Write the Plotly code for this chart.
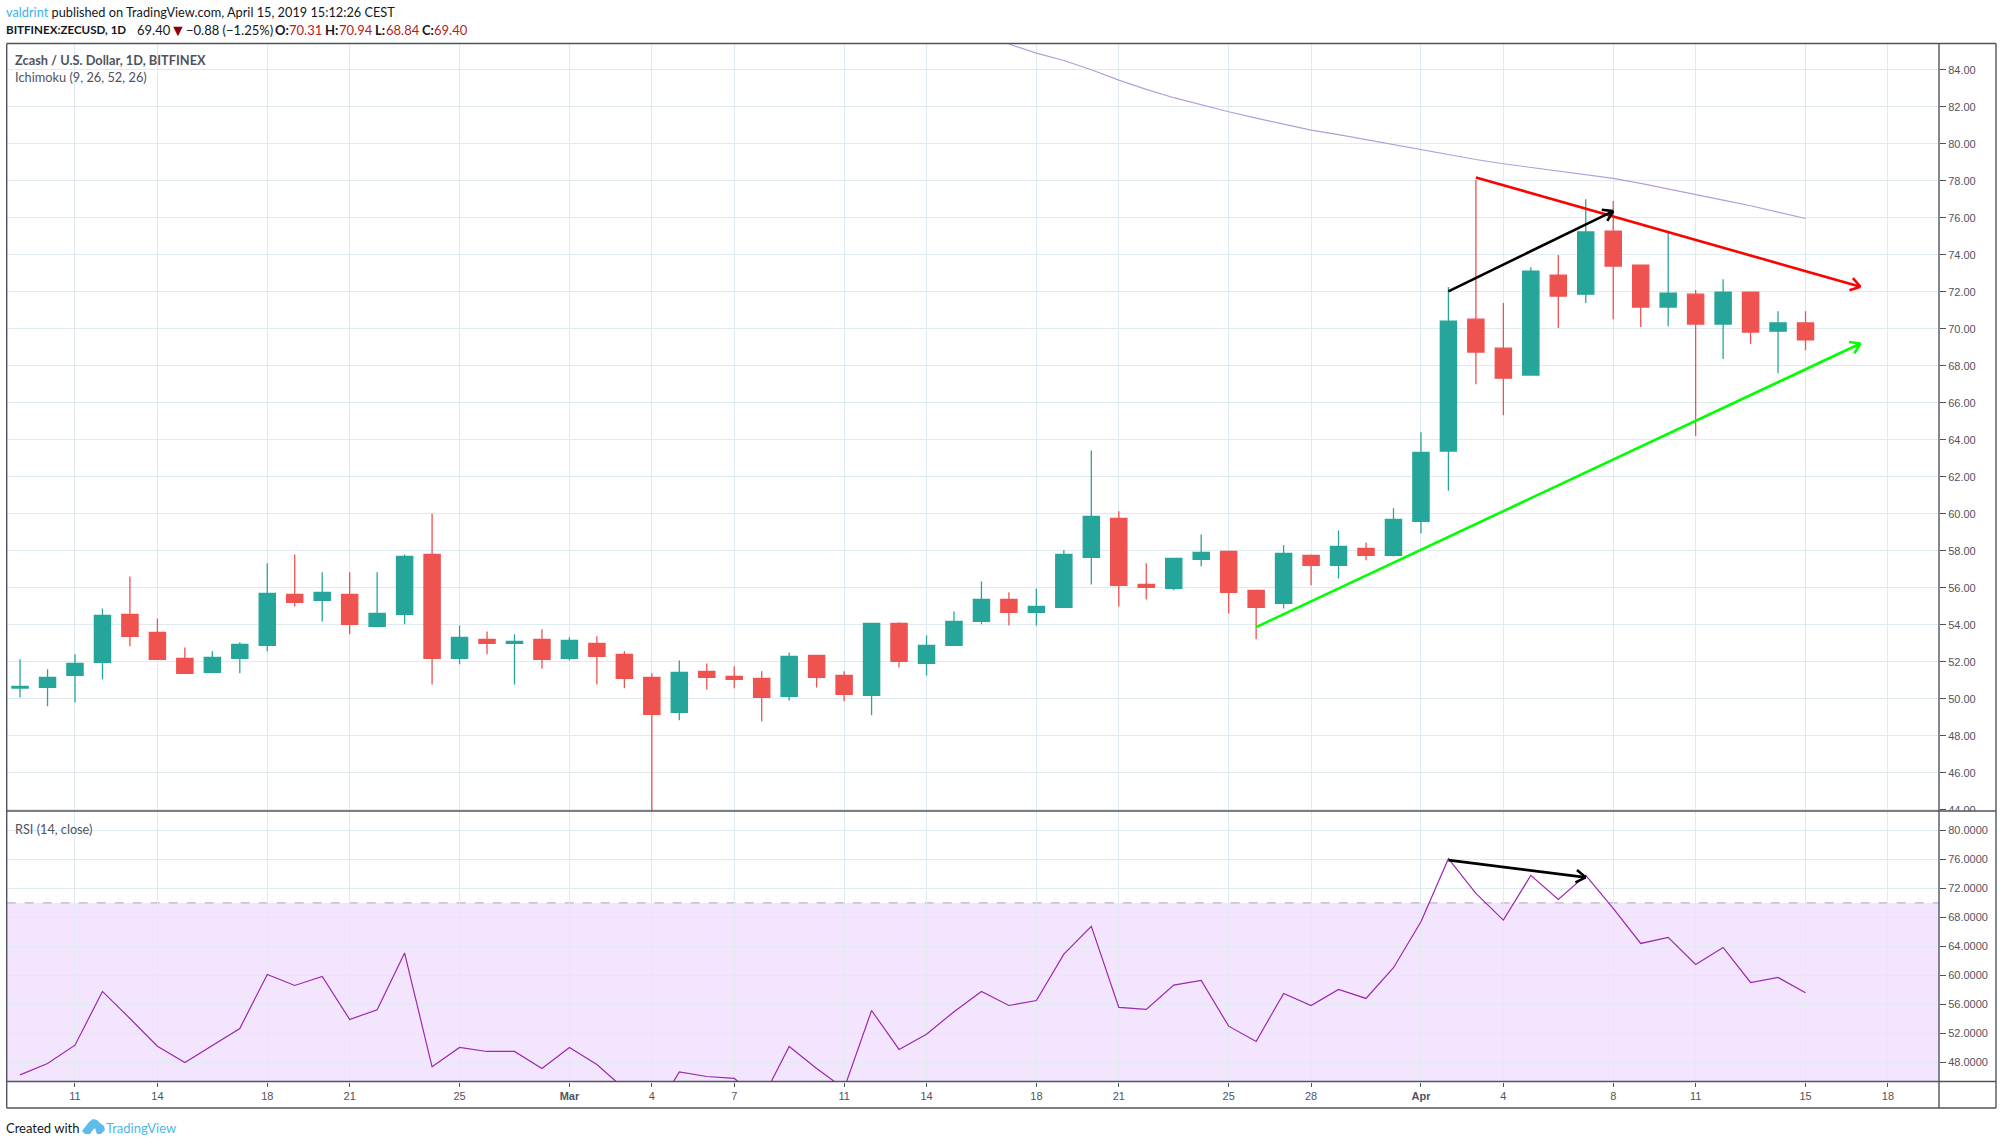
import math
import pandas as pd
import plotly.graph_objects as go

W, H = 2002, 1145

dates = [d.strftime("%Y-%m-%d") for d in pd.date_range("2019-02-09", "2019-04-15")]

opens = [50.58, 50.61, 51.26, 51.96, 54.56, 53.59, 52.18, 51.42, 52.18, 52.88, 55.64, 55.32, 55.64, 53.91, 54.56, 57.80,
         52.18, 53.21, 52.99, 53.21, 52.18, 52.99, 52.40, 51.15, 49.26, 51.48, 51.21, 51.10, 50.13, 52.34, 51.26, 50.18,
         54.07, 51.91, 52.88, 54.18, 55.37, 54.67, 54.94, 57.64, 59.75, 56.18, 55.96, 57.53, 57.96, 55.86, 55.15, 57.75,
         57.21, 58.13, 57.75, 59.59, 63.39, 70.52, 68.95, 67.50, 72.90, 71.87, 75.28, 73.44, 71.17, 71.87, 70.25, 71.98,
         69.87, 70.31]
highs = [52.13, 51.59, 52.40, 54.88, 56.61, 54.34, 52.77, 52.56, 53.05, 57.32, 57.80, 56.83, 56.83, 56.83, 57.80, 60.00,
         53.96, 53.64, 53.48, 53.75, 53.32, 53.37, 52.56, 51.37, 52.07, 51.91, 51.75, 51.48, 52.50, 52.34, 51.48, 54.07,
         54.13, 53.42, 54.72, 56.34, 55.75, 55.96, 58.02, 63.42, 60.13, 57.32, 57.59, 58.88, 57.96, 55.91, 58.29, 57.80,
         59.10, 58.45, 60.29, 64.40, 72.25, 78.04, 71.39, 73.33, 73.98, 77.00, 76.90, 73.44, 75.24, 72.09, 72.68, 71.98,
         70.95, 70.94]
lows = [50.07, 49.59, 49.80, 51.05, 52.83, 52.10, 51.37, 51.42, 51.37, 52.56, 54.99, 54.18, 53.48, 53.91, 54.02, 50.77,
        51.86, 52.40, 50.77, 51.64, 52.07, 50.77, 50.56, 43.00, 48.83, 50.50, 50.56, 48.77, 49.91, 50.61, 49.86, 49.10,
        51.69, 51.26, 52.88, 54.02, 53.96, 53.96, 54.94, 56.18, 54.99, 55.37, 55.86, 57.15, 54.61, 53.21, 54.88, 56.13,
        56.50, 57.48, 57.69, 58.94, 61.24, 67.00, 65.33, 67.50, 70.04, 71.39, 70.52, 70.09, 70.14, 64.20, 68.36, 69.17,
        67.60, 68.84]
closes = [50.67, 51.15, 51.91, 54.50, 53.37, 52.13, 51.37, 52.23, 52.94, 55.69, 55.21, 55.75, 54.02, 54.61, 57.69, 52.18,
          53.32, 52.99, 53.10, 52.13, 53.15, 52.29, 51.10, 49.15, 51.42, 51.15, 51.05, 50.07, 52.29, 51.15, 50.23, 54.07,
          52.02, 52.88, 54.18, 55.37, 54.67, 54.99, 57.80, 59.86, 56.13, 56.02, 57.59, 57.91, 55.75, 54.94, 57.86, 57.21,
          58.23, 57.75, 59.69, 63.32, 70.41, 68.74, 67.33, 73.12, 71.77, 75.23, 73.39, 71.17, 71.93, 70.25, 71.98, 69.82,
          70.31, 69.40]

rsi = [46.3, 47.86, 50.39, 57.8, 54.07, 50.25, 48.0, 50.39, 52.69, 60.14, 58.62, 59.86, 53.93, 55.26, 63.08, 47.4,
       50.07, 49.52, 49.52, 47.17, 50.07, 47.72, 44.37, 40.4, 46.7, 46.07, 45.8, 42.8, 50.2, 47.17, 44.4, 55.17,
       49.8, 51.9, 55.0, 57.8, 55.86, 56.55, 62.94, 66.76, 55.59, 55.31, 58.67, 59.31, 53.01, 50.9, 57.52, 55.86,
       58.07, 56.83, 61.06, 67.4, 76.09, 71.31, 67.63, 73.79, 70.48, 73.79, 69.24, 64.41, 65.24, 61.52, 63.86, 59.03,
       59.72, 57.61]

cloud_dates = [d.strftime("%Y-%m-%d") for d in pd.date_range("2019-03-17", "2019-04-15")]
cloud_line = [85.39, 84.9, 84.5, 84.0, 83.44, 82.94, 82.49, 82.09, 81.73, 81.39, 81.05, 80.74, 80.49, 80.22, 79.95,
              79.68, 79.39, 79.15, 78.92, 78.72, 78.52, 78.34, 78.13, 77.86, 77.57, 77.26, 76.95, 76.65, 76.31, 75.96]

tick_dates = ["2019-02-11", "2019-02-14", "2019-02-18", "2019-02-21", "2019-02-25", "2019-03-01", "2019-03-04",
              "2019-03-07", "2019-03-11", "2019-03-14", "2019-03-18", "2019-03-21", "2019-03-25", "2019-03-28",
              "2019-04-01", "2019-04-04", "2019-04-08", "2019-04-11", "2019-04-15", "2019-04-18"]
tick_labels = ["11", "14", "18", "21", "25", "<b>Mar</b>", "4", "7", "11", "14", "18", "21", "25", "28", "<b>Apr</b>",
               "4", "8", "11", "15", "18"]
price_ticks = list(range(44, 86, 2))
rsi_ticks = list(range(48, 84, 4))

red_trend_x, red_trend_y = ["2019-04-03", "2019-04-17"], [78.18, 72.27]
green_trend_x, green_trend_y = ["2019-03-26", "2019-04-17"], [53.87, 69.2]
black_trend_x, black_trend_y = ["2019-04-02", "2019-04-08"], [72.02, 76.36]
rsi_trend_x, rsi_trend_y = ["2019-04-02", "2019-04-07"], [75.9, 73.52]

FONT = "Liberation Sans"
NOTE_FONT = "Lato"
TXT = "#50535e"
GRID = "#e0eaf1"
FRAME = "#50535e"
PL, PR, PT, PM, PB, PF, FR = 6.7, 1939, 43.5, 811, 1081.5, 1108, 1996
PX_DAY, PX_PRICE, PX_RSI = 27.47, 18.5, 7.25


def fx(x):
    return x / W


def fy(y):
    return 1 - y / H


fig = go.Figure()
fig.add_trace(go.Scatter(x=cloud_dates, y=cloud_line, mode="lines", line=dict(color="#b39ddb", width=1.2),
                         xaxis="x", yaxis="y", showlegend=False))
fig.add_trace(go.Candlestick(x=dates, open=opens, high=highs, low=lows, close=closes, xaxis="x", yaxis="y",
                             whiskerwidth=0, showlegend=False,
                             increasing=dict(line=dict(color="#26a69a", width=1.3), fillcolor="#26a69a"),
                             decreasing=dict(line=dict(color="#ef5350", width=1.3), fillcolor="#ef5350")))


def arrow(x, y, color, xa, ya, px_y, width=2.6, head=11.5, spread=33):
    """Shaft plus an open chevron head that follows the shaft's on-screen direction."""
    t0, t1 = pd.Timestamp(x[0]), pd.Timestamp(x[1])
    dx = (t1 - t0) / pd.Timedelta(days=1) * PX_DAY
    dy = (y[1] - y[0]) * px_y
    ang = math.atan2(dy, dx)
    xs, ys = [t0, t1, None], [y[0], y[1], None]
    for sign in (-1, 1):
        a = ang + math.pi + sign * math.radians(spread)
        xs += [t1 + pd.Timedelta(days=head * math.cos(a) / PX_DAY), t1, None]
        ys += [y[1] + head * math.sin(a) / px_y, y[1], None]
    fig.add_trace(go.Scatter(x=xs, y=ys, mode="lines", xaxis=xa, yaxis=ya, showlegend=False,
                             line=dict(color=color, width=width)))


arrow(red_trend_x, red_trend_y, "#ff0000", "x", "y", PX_PRICE)
arrow(green_trend_x, green_trend_y, "#00ff00", "x", "y", PX_PRICE)
arrow(black_trend_x, black_trend_y, "#000000", "x", "y", PX_PRICE)

fig.add_trace(go.Scatter(x=dates, y=rsi, mode="lines", line=dict(color="#9c27b0", width=1.2),
                         xaxis="x2", yaxis="y2", showlegend=False))
arrow(rsi_trend_x, rsi_trend_y, "#000000", "x2", "y2", PX_RSI)

x_range = ["2019-02-08 12:20", "2019-04-19 20:38"]
common_x = dict(range=x_range, type="date", tickmode="array", tickvals=tick_dates, showgrid=True, gridcolor=GRID,
                gridwidth=1, zeroline=False, rangeslider=dict(visible=False), showline=False)
common_y = dict(side="right", showgrid=True, gridcolor=GRID, gridwidth=1.3, zeroline=False, showline=False,
                ticks="outside", ticklen=6, tickcolor=FRAME, tickwidth=1,
                tickfont=dict(family=FONT, size=11, color=TXT))

shapes = [
    dict(type="rect", xref="x2 domain", x0=0, x1=1, yref="y2", y0=30, y1=70, fillcolor="rgba(153,21,255,0.11)",
         line=dict(width=0), layer="below"),
    dict(type="line", xref="x2 domain", x0=0, x1=1, yref="y2", y0=70, y1=70,
         line=dict(color="#c3aecb", width=1.2, dash="dash"), layer="below"),
    dict(type="rect", xref="paper", yref="paper", x0=fx(PR + 1), x1=fx(FR - 1), y0=fy(PM), y1=fy(PM + 9),
         fillcolor="#ffffff", line=dict(width=0), layer="above"),
]
for x0, y0, x1, y1 in [(PL, PT, FR, PT), (PL, PM, FR, PM), (PL, PB, FR, PB), (PL, PF, FR, PF),
                       (PL, PT, PL, PF), (PR, PT, PR, PF), (FR, PT, FR, PF)]:
    shapes.append(dict(type="line", xref="paper", yref="paper", x0=fx(x0), x1=fx(x1), y0=fy(y0), y1=fy(y1),
                       line=dict(color=FRAME, width=1.4), layer="above"))


def logo_path(pts):
    return "M" + " L".join(f"{fx(a):.5f},{fy(b):.5f}" for a, b in pts) + " Z"


shapes.append(dict(type="path", xref="paper", yref="paper", fillcolor="#5cbcea", line=dict(width=0), layer="above",
                   path=logo_path([(82, 1131), (89, 1122), (93, 1119), (97, 1120), (100, 1123), (104, 1126), (105, 1130),
                                   (101, 1134), (97, 1134), (95, 1128), (92, 1131), (90, 1134), (85, 1134)])))


def note(x, y, text, size=12, color=TXT):
    return dict(xref="paper", yref="paper", x=fx(x), y=fy(y), text=text, showarrow=False, xanchor="left",
                yanchor="middle", align="left", font=dict(family=NOTE_FONT, size=size, color=color),
                borderpad=0, borderwidth=0)


DR = "#b71c1c"
INK = "#131722"
annotations = [
    note(6, 12.5, '<span style="color:#3bb3e4">valdrint</span> published on TradingView.com, April 15, 2019 15:12:26 CEST',
         12.75, INK),
    note(6, 29.5, "<b>BITFINEX:ZECUSD, 1D</b>", 11.6, INK),
    note(137, 29.5, "69.40", 13, INK),
    note(170, 29.5, "▼", 16, "#8b0000"),
    note(186, 29.5, "−0.88 (−1.25%)", 13, INK),
    note(275, 29.5, "<b>O:</b>", 13, INK),
    note(289, 29.5, "70.31", 13, DR),
    note(325, 29.5, "<b>H:</b>", 13, INK),
    note(339, 29.5, "70.94", 13, DR),
    note(375, 29.5, "<b>L:</b>", 13, INK),
    note(386, 29.5, "68.84", 13, DR),
    note(422, 29.5, "<b>C:</b>", 13, INK),
    note(434, 29.5, "69.40", 13, DR),
    note(15, 60, "<b>Zcash / U.S. Dollar, 1D, BITFINEX</b>", 12.8),
    note(15, 77, "Ichimoku (9, 26, 52, 26)", 12.8),
    note(15, 829, "RSI (14, close)", 12.7),
    note(6, 1128, "Created with", 13, INK),
    note(106, 1128, "TradingView", 13, "#4db6e8"),
]

fig.update_layout(
    width=W, height=H, margin=dict(l=0, r=0, t=0, b=0, autoexpand=False), paper_bgcolor="#ffffff",
    plot_bgcolor="#ffffff", showlegend=False, boxgap=0.41, boxgroupgap=0, shapes=shapes, annotations=annotations,
    xaxis=dict(common_x, domain=[PL / W, PR / W], anchor="y", showticklabels=False, ticks="", matches="x2"),
    xaxis2=dict(common_x, domain=[PL / W, PR / W], anchor="y2", ticktext=tick_labels, ticks="outside", ticklen=4,
                tickcolor=FRAME, tickfont=dict(family=FONT, size=11, color=TXT)),
    yaxis=dict(common_y, domain=[1 - PM / H, 1 - PT / H], range=[43.93, 85.42], tickmode="array", tickvals=price_ticks,
               tickformat=".2f", anchor="x"),
    yaxis2=dict(common_y, domain=[1 - PB / H, 1 - PM / H], range=[45.38, 82.67], tickmode="array", tickvals=rsi_ticks,
                tickformat=".4f", anchor="x2"),
)

fig.write_html("out.html", default_width=f"{W}px", default_height=f"{H}px", config=dict(displayModeBar=False),
               post_script="document.body.style.margin='0';document.body.style.overflow='hidden';")
